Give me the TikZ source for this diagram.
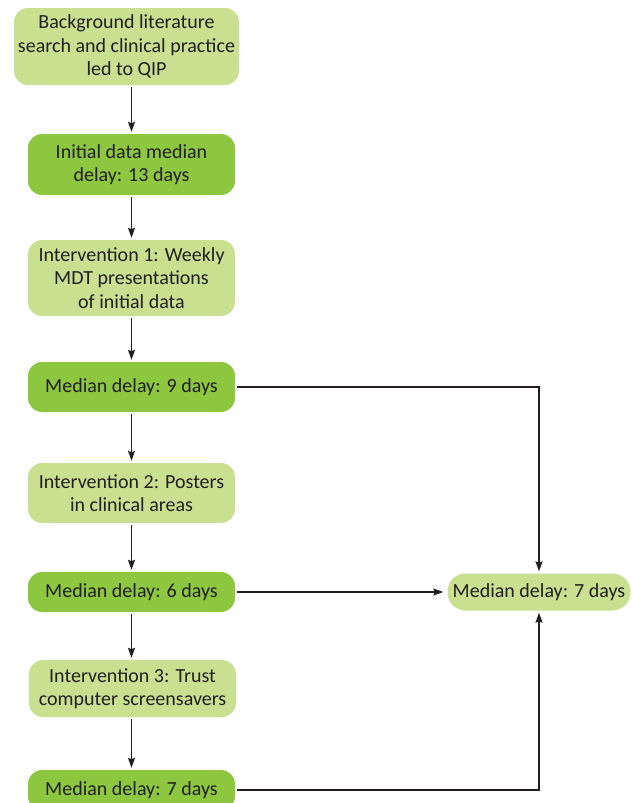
\documentclass[tikz,border=0pt]{standalone}
\usepackage{fontspec}
\setmainfont{Carlito}
\usetikzlibrary{arrows.meta}

\definecolor{lightgreen}{RGB}{200,224,143}
\definecolor{darkgreen}{RGB}{141,198,63}
\definecolor{inkgray}{RGB}{35,31,32}

\tikzset{
    box/.style={fill=#1, text=inkgray, rounded corners=14pt, align=center,
        minimum width=207pt, inner sep=0pt, font=\fontsize{20}{23.5}\selectfont},
    link/.style={-{Stealth[length=10pt,width=7pt,inset=1.5pt]}, draw=inkgray,
        line width=1.6pt, shorten <=2pt, shorten >=2pt},
}

\begin{document}
\begin{tikzpicture}[x=1pt,y=-1pt]
        \useasboundingbox (0,0) rectangle (638,803);

        \node[box=lightgreen, minimum width=225pt, minimum height=77pt] (Background) at (126.5,46.5) {Background literature\\search and clinical practice\\led to QIP};
        \node[box=darkgreen, minimum height=61pt] (InitialData) at (131.5,164.5) {Initial data median\\delay: 13 days};
        \node[box=lightgreen, minimum height=76pt] (InterventionOne) at (131.5,278) {Intervention 1: Weekly\\MDT presentations\\of initial data};
        \node[box=darkgreen, minimum height=50pt] (MedianNine) at (131.5,387) {Median delay: 9 days};
        \node[box=lightgreen, minimum height=60pt] (InterventionTwo) at (131.5,493) {Intervention 2: Posters\\in clinical areas};
        \node[box=darkgreen, minimum height=40pt] (MedianSix) at (131.5,592) {Median delay: 6 days};
        \node[box=lightgreen, minimum height=57pt] (InterventionThree) at (132.5,688.5) {Intervention 3: Trust\\computer screensavers};
        \node[box=darkgreen, minimum height=40pt] (MedianSevenLow) at (131.5,790) {Median delay: 7 days};
        \node[box=lightgreen, minimum width=183pt, minimum height=37pt, rounded corners=18pt] (MedianSeven) at (539,592) {Median delay: 7 days};

        \draw[link] (Background.south -| InitialData) to (InitialData);
        \draw[link] (InitialData) to (InterventionOne);
        \draw[link] (InterventionOne) to (MedianNine);
        \draw[link] (MedianNine) to (InterventionTwo);
        \draw[link] (InterventionTwo) to (MedianSix);
        \draw[link] (MedianSix) to (InterventionThree.north -| MedianSix);
        \draw[link] (InterventionThree.south -| MedianSevenLow) to (MedianSevenLow);
        \draw[link] (MedianNine) -| (MedianSeven);
        \draw[link, shorten >=4pt] (MedianSix) to (MedianSeven);
        \draw[link] (MedianSevenLow) -| (MedianSeven);
    \end{tikzpicture}
\end{document}
